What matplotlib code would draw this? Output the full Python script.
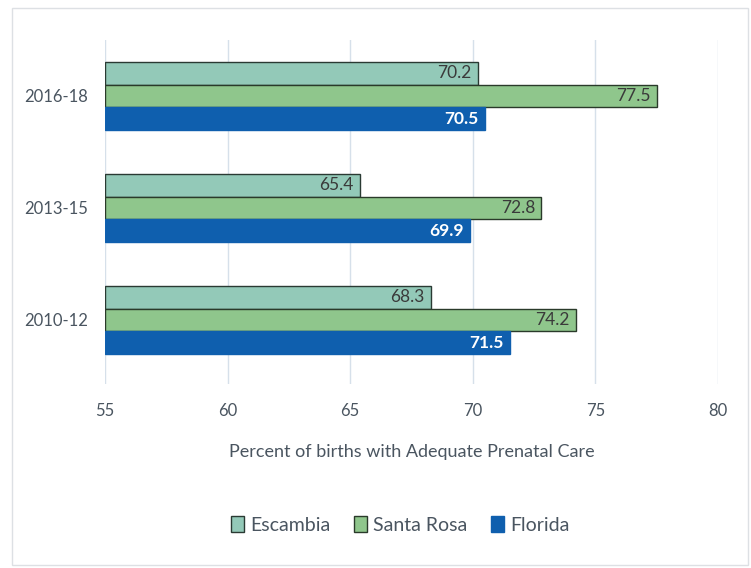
import matplotlib
matplotlib.use("Agg")
import matplotlib.pyplot as plt
from matplotlib.patches import Rectangle
import numpy as np

plt.rcParams['font.family'] = ['Lato', 'DejaVu Sans']

periods = ["2016-18", "2013-15", "2010-12"]
series_names = ["Escambia", "Santa Rosa", "Florida"]
escambia = [70.2, 65.4, 68.3]
santa_rosa = [77.5, 72.8, 74.2]
florida = [70.5, 69.9, 71.5]
xticks = [55, 60, 65, 70, 75, 80]

colors = ["#93c9b8", "#8fc68c", "#0f5fae"]
edges = ["#2a3a33", "#2a3a2a", "#0f5fae"]
label_colors = ["#3a3a3a", "#3a3a3a", "white"]

fig = plt.figure(figsize=(7.51, 5.68), dpi=100)
fig.patches.append(Rectangle((12/751, 1-565/568), 736/751, 557/568, transform=fig.transFigure,
                             fill=False, edgecolor="#dde0e4", linewidth=1.0))
ax = fig.add_axes([105/751, 1-384/568, 613/751, 344/568])

n = len(periods)
y = np.arange(n)  # 0 top
bh = 0.205
data = [escambia, santa_rosa, florida]
for i, (vals, c, e, lc) in enumerate(zip(data, colors, edges, label_colors)):
    pos = y + (i - 1) * bh
    bars = ax.barh(pos, [v - 55 for v in vals], left=55, height=bh, color=c,
                   edgecolor=e, linewidth=1.0, zorder=3)
    for b, v in zip(bars, vals):
        ax.text(v - 0.25, b.get_y() + b.get_height() / 2, f"{v:.1f}", ha="right", va="center",
                color=lc, fontsize=12.5, fontweight="bold" if i == 2 else "normal", zorder=4)

ax.set_xlim(55, 80)
ax.set_ylim(-0.5 + 344/112, -0.5)
ax.set_xticks(xticks)
ax.set_xticklabels([str(t) for t in xticks], color="#4a5560", fontsize=12)
ax.set_yticks(y)
ax.set_yticklabels(periods, color="#4a5560", fontsize=12)
ax.tick_params(axis="both", length=0)
ax.tick_params(axis="x", pad=14)
ax.tick_params(axis="y", pad=12)
ax.grid(axis="x", color="#d6e0ea", linewidth=1.0, zorder=0)
for s in ax.spines.values():
    s.set_visible(False)
ax.set_xlabel("Percent of births with Adequate Prenatal Care", color="#4a5560", fontsize=13, labelpad=18)

handles = [Rectangle((0, 0), 1, 1, facecolor=c, edgecolor=e, linewidth=1.0) for c, e in zip(colors, edges)]
fig.legend(handles, series_names, loc="center", bbox_to_anchor=(400/751, 1-525/568), ncol=3,
           frameon=False, fontsize=14, handlelength=0.7, handleheight=0.9, handletextpad=0.3,
           columnspacing=1.2, labelcolor="#4a5560")

fig.savefig("out.png", dpi=100, facecolor="white")
